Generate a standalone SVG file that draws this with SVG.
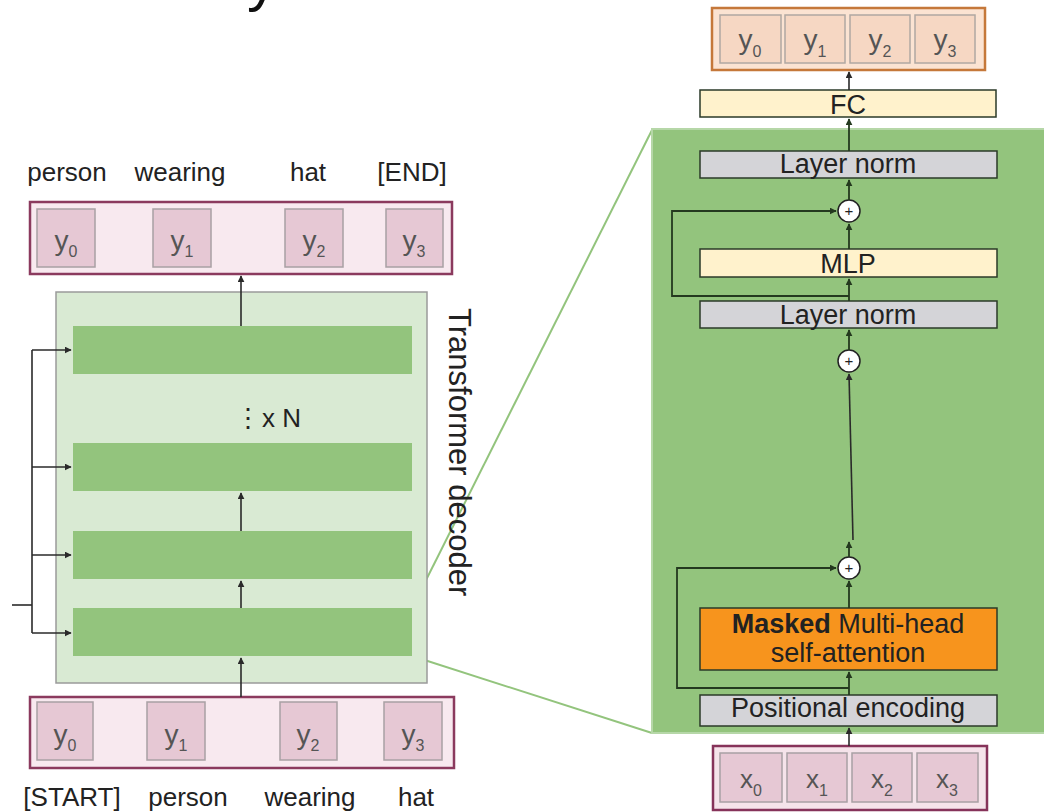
<svg xmlns="http://www.w3.org/2000/svg" width="1044" height="812" viewBox="0 0 1044 812">
<defs>
<marker id="ah" viewBox="0 0 10 10" refX="9" refY="5" markerWidth="7" markerHeight="7" markerUnits="userSpaceOnUse" orient="auto">
<path d="M0,0 L10,5 L0,10 z" fill="#2a2a2a"/>
</marker>
<marker id="ahg" viewBox="0 0 10 10" refX="9" refY="5" markerWidth="7" markerHeight="7" markerUnits="userSpaceOnUse" orient="auto">
<path d="M0,0 L10,5 L0,10 z" fill="#24391f"/>
</marker>
</defs>
<style>
text{font-family:"Liberation Sans",Arial,sans-serif;}
.word{font-size:26px;fill:#222;text-anchor:middle;}
.seq{fill:#f8e9ef;stroke:#8b3a5e;stroke-width:2.5;}
.cell{fill:#e6c8d4;stroke:#a8a0a4;stroke-width:1.5;}
.ocell{fill:#f6d7c3;stroke:#b0a8a2;stroke-width:1.5;}
.tok{font-size:28px;fill:#555;text-anchor:middle;}
.sub{font-size:16px;}
.bar{fill:#93c47d;}
.blk{stroke:#2b3a28;stroke-width:1.5;}
.gray{fill:#d4d4d8;}
.cream{fill:#fff2cc;}
.lbl{font-size:27px;fill:#222;text-anchor:middle;}
.ln{fill:none;stroke:#2a2a2a;stroke-width:1.6;}
.lng{fill:none;stroke:#24391f;stroke-width:1.8;}
.zoom{fill:none;stroke:#93c47d;stroke-width:2;}
.sum{fill:#fff;stroke:#222;stroke-width:1.5;}
.plus{font-size:15px;fill:#222;text-anchor:middle;}
</style>
<rect width="1044" height="812" fill="#ffffff"/>

<text id="title-fragment" x="247" y="0" style="font-size:60px;fill:#111;">y</text>

<g id="connectors-zoom">
<path class="zoom" d="M412,608 L652,130"/>
<path class="zoom" d="M412,656 L652,733"/>
</g>

<g id="output-words">
<text class="word" x="67" y="181">person</text>
<text class="word" x="180" y="181">wearing</text>
<text class="word" x="308" y="181">hat</text>
<text class="word" x="412" y="181">[END]</text>
</g>

<g id="output-seq">
<rect class="seq" x="30" y="202" width="422" height="72"/>
<rect class="cell" x="37" y="209" width="58" height="58"/>
<rect class="cell" x="153" y="209" width="58" height="58"/>
<rect class="cell" x="285" y="209" width="58" height="58"/>
<rect class="cell" x="386" y="209" width="57" height="58"/>
<text class="tok" x="66" y="250">y<tspan class="sub" dy="7">0</tspan></text>
<text class="tok" x="182" y="250">y<tspan class="sub" dy="7">1</tspan></text>
<text class="tok" x="314" y="250">y<tspan class="sub" dy="7">2</tspan></text>
<text class="tok" x="414" y="250">y<tspan class="sub" dy="7">3</tspan></text>
</g>

<g id="decoder">
<rect x="56" y="292" width="371" height="391" fill="#d9ead3" stroke="#9a9a9a" stroke-width="1.5"/>
<rect class="bar" x="73" y="326" width="339" height="48"/>
<rect class="bar" x="73" y="443" width="339" height="48"/>
<rect class="bar" x="73" y="531" width="339" height="48"/>
<rect class="bar" x="73" y="608" width="339" height="48"/>
<text x="235" y="427" style="font-size:26px;fill:#222;">⋮<tspan x="262">x N</tspan></text>
</g>

<g id="input-seq-left">
<rect class="seq" x="30" y="697" width="424" height="71"/>
<rect class="cell" x="37" y="702" width="56" height="58"/>
<rect class="cell" x="147" y="702" width="58" height="58"/>
<rect class="cell" x="280" y="702" width="57" height="58"/>
<rect class="cell" x="384" y="702" width="58" height="58"/>
<text class="tok" x="65" y="744">y<tspan class="sub" dy="7">0</tspan></text>
<text class="tok" x="176" y="744">y<tspan class="sub" dy="7">1</tspan></text>
<text class="tok" x="308" y="744">y<tspan class="sub" dy="7">2</tspan></text>
<text class="tok" x="413" y="744">y<tspan class="sub" dy="7">3</tspan></text>
</g>

<g id="input-words">
<text class="word" x="72" y="806">[START]</text>
<text class="word" x="188" y="806">person</text>
<text class="word" x="310" y="806">wearing</text>
<text class="word" x="416" y="806">hat</text>
</g>

<g id="block-panel">
<rect x="652" y="129" width="400" height="604" fill="#93c47d" stroke="#b6d7a8" stroke-width="2"/>
</g>

<g id="output-seq-right">
<rect x="712" y="8" width="273" height="62" fill="#fbe3d2" stroke="#c5783a" stroke-width="2.5"/>
<rect class="ocell" x="720" y="15" width="61" height="48"/>
<rect class="ocell" x="785" y="15" width="60" height="48"/>
<rect class="ocell" x="850" y="15" width="60" height="48"/>
<rect class="ocell" x="915" y="15" width="60" height="48"/>
<text class="tok" x="750" y="49">y<tspan class="sub" dy="8">0</tspan></text>
<text class="tok" x="815" y="49">y<tspan class="sub" dy="8">1</tspan></text>
<text class="tok" x="880" y="49">y<tspan class="sub" dy="8">2</tspan></text>
<text class="tok" x="945" y="49">y<tspan class="sub" dy="8">3</tspan></text>
</g>

<g id="fc">
<rect class="blk cream" x="700" y="90" width="296" height="27"/>
<text class="lbl" x="848" y="114">FC</text>
</g>

<g id="layernorm-top">
<rect class="blk gray" x="700" y="151" width="297" height="27"/>
<text class="lbl" x="848" y="173">Layer norm</text>
</g>

<g id="sum-1">
<circle class="sum" cx="849" cy="211" r="11"/>
<text class="plus" x="849" y="216">+</text>
</g>

<g id="mlp">
<rect class="blk cream" x="700" y="249" width="297" height="28"/>
<text class="lbl" x="848" y="273">MLP</text>
</g>

<g id="layernorm-mid">
<rect class="blk gray" x="700" y="301" width="297" height="27"/>
<text class="lbl" x="848" y="324">Layer norm</text>
</g>

<g id="sum-2">
<circle class="sum" cx="849" cy="361" r="11"/>
<text class="plus" x="849" y="366">+</text>
</g>

<g id="sum-3">
<circle class="sum" cx="849" cy="568" r="11"/>
<text class="plus" x="849" y="573">+</text>
</g>

<g id="mhsa">
<rect class="blk" x="700" y="608" width="297" height="62" fill="#f7941d"/>
<text class="lbl" x="848" y="633"><tspan font-weight="bold">Masked</tspan> Multi-head</text>
<text class="lbl" x="848" y="662">self-attention</text>
</g>

<g id="posenc">
<rect class="blk gray" x="700" y="695" width="297" height="31"/>
<text class="lbl" x="848" y="717">Positional encoding</text>
</g>

<g id="input-seq-right">
<rect x="713" y="746" width="274" height="64" fill="#f5e3ea" stroke="#86335a" stroke-width="2.5"/>
<rect class="cell" x="720" y="753" width="62" height="49"/>
<rect class="cell" x="787" y="753" width="60" height="49"/>
<rect class="cell" x="852" y="753" width="60" height="49"/>
<rect class="cell" x="917" y="753" width="61" height="49"/>
<text class="tok" x="751" y="788" style="font-size:26px">x<tspan class="sub" dy="8">0</tspan></text>
<text class="tok" x="817" y="788" style="font-size:26px">x<tspan class="sub" dy="8">1</tspan></text>
<text class="tok" x="882" y="788" style="font-size:26px">x<tspan class="sub" dy="8">2</tspan></text>
<text class="tok" x="947" y="788" style="font-size:26px">x<tspan class="sub" dy="8">3</tspan></text>
</g>

<g id="connectors">
<path class="ln" d="M241,697 L241,658" marker-end="url(#ah)"/>
<path class="ln" d="M241,608 L241,581" marker-end="url(#ah)"/>
<path class="ln" d="M241,531 L241,493" marker-end="url(#ah)"/>
<path class="ln" d="M241,326 L241,276" marker-end="url(#ah)"/>
<path class="ln" d="M12,605 L32,605"/>
<path class="ln" d="M32,350 L32,633"/>
<path class="ln" d="M32,350 L71,350" marker-end="url(#ah)"/>
<path class="ln" d="M32,467 L71,467" marker-end="url(#ah)"/>
<path class="ln" d="M32,555 L71,555" marker-end="url(#ah)"/>
<path class="ln" d="M32,633 L71,633" marker-end="url(#ah)"/>

<path class="ln" d="M849,90 L849,72" marker-end="url(#ah)"/>
<path class="lng" d="M849,151 L849,119" marker-end="url(#ahg)"/>
<path class="lng" d="M849,200 L849,180" marker-end="url(#ahg)"/>
<path class="lng" d="M849,249 L849,224" marker-end="url(#ahg)"/>
<path class="lng" d="M849,301 L849,279" marker-end="url(#ahg)"/>
<path class="lng" d="M849,296 L672,296 L672,211 L836,211" marker-end="url(#ahg)"/>
<path class="lng" d="M849,350 L849,330" marker-end="url(#ahg)"/>
<path class="ln" d="M853,540 L849,374" marker-end="url(#ah)"/>
<path class="lng" d="M849,557 L849,542" marker-end="url(#ahg)"/>
<path class="lng" d="M849,608 L849,581" marker-end="url(#ahg)"/>
<path class="lng" d="M849,688 L677,688 L677,568 L836,568" marker-end="url(#ahg)"/>
<path class="lng" d="M849,695 L849,672" marker-end="url(#ahg)"/>
<path class="ln" d="M849,746 L849,728" marker-end="url(#ah)"/>
</g>

<g id="decoder-label">
<text transform="translate(449,308) rotate(90)" style="font-size:31px;fill:#222;">Transformer decoder</text>
</g>
</svg>
